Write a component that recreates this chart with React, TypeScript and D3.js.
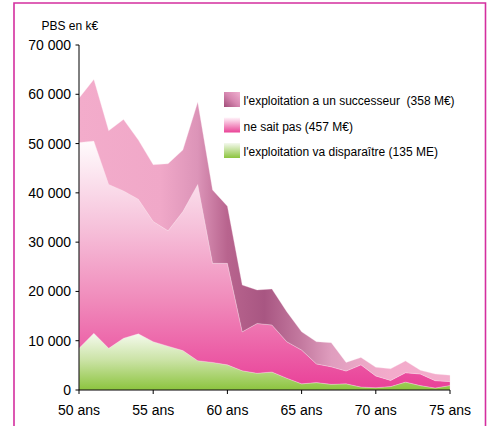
import React from "react";
import * as d3 from "d3";

const ages = [50,51,52,53,54,55,56,57,58,59,60,61,62,63,64,65,66,67,68,69,70,71,72,73,74,75];
// stacked boundaries (k€)
const totalTop = [59200,63000,52600,54900,50700,45700,45900,48700,58400,40600,37300,21300,20300,20500,15900,11800,9800,9600,5600,6600,4600,4300,5900,4000,3250,3000];
const midTop = [50200,50500,41700,40400,38700,34200,32300,36200,41700,25700,25700,11800,13500,13200,9800,8100,5300,4700,3850,5100,2850,1950,3500,3250,1900,1700];
const disparaitre = [8450,11500,8450,10500,11400,9800,8900,8000,5950,5600,5100,3900,3400,3650,2400,1250,1500,1150,1250,600,470,700,1600,900,400,900];
const neSaitPas = midTop.map((v, i) => v - disparaitre[i]);
const successeur = totalTop.map((v, i) => v - midTop[i]);

const seriesKeys = ["disparaitre", "neSaitPas", "successeur"];
const legendLabels = [
  "l'exploitation a un successeur  (358 M€)",
  "ne sait pas (457 M€)",
  "l'exploitation va disparaître (135 ME)",
];
const yTicks = [0, 10000, 20000, 30000, 40000, 50000, 60000, 70000];
const xTicks = [50, 55, 60, 65, 70, 75];

export default function App() {
  const W = 491, H = 426;
  const x = d3.scaleLinear().domain([50, 75]).range([79, 450]);
  const y = d3.scaleLinear().domain([0, 70000]).range([390, 45]);
  const rows = ages.map((a, i) => ({ age: a, disparaitre: disparaitre[i], neSaitPas: neSaitPas[i], successeur: successeur[i] }));
  const stacked = d3.stack<any>().keys(seriesKeys)(rows);
  const area = d3.area<any>().x((d) => x(d.data.age)).y0((d) => y(d[0])).y1((d) => y(d[1]));
  const fills = ["url(#gGreen)", "url(#gPink)", "url(#gMauve)"];
  const fmt = (v: number) => d3.format(",")(v).replace(/,/g, " ");
  const font = "Liberation Sans, Arial, sans-serif";

  return (
    <svg width={W} height={H} style={{ position: "absolute", left: 0, top: 0 }} fontFamily={font}>
      <defs>
        <linearGradient id="gMauve" gradientUnits="userSpaceOnUse" x1="79" y1="0" x2="450" y2="0">
          <stop offset="0" stopColor="#f3accb" />
          <stop offset="0.22" stopColor="#f0a8c8" />
          <stop offset="0.32" stopColor="#dc94b8" />
          <stop offset="0.40" stopColor="#b8648e" />
          <stop offset="0.50" stopColor="#a85682" />
          <stop offset="0.60" stopColor="#c47aa0" />
          <stop offset="0.68" stopColor="#df9dbe" />
          <stop offset="0.76" stopColor="#eba7c6" />
          <stop offset="0.84" stopColor="#f3abcb" />
          <stop offset="1" stopColor="#f3adcc" />
        </linearGradient>
        <linearGradient id="gPink" gradientUnits="userSpaceOnUse" x1="0" y1="140" x2="0" y2="390">
          <stop offset="0" stopColor="#fffcfd" />
          <stop offset="0.35" stopColor="#f6c1da" />
          <stop offset="0.65" stopColor="#f089ba" />
          <stop offset="1" stopColor="#e93f98" />
        </linearGradient>
        <linearGradient id="gGreen" gradientUnits="userSpaceOnUse" x1="0" y1="330" x2="0" y2="390">
          <stop offset="0" stopColor="#fafdf7" />
          <stop offset="0.5" stopColor="#cbe3a6" />
          <stop offset="1" stopColor="#8cc43e" />
        </linearGradient>
        <linearGradient id="lgMauve" x1="1" y1="0" x2="0" y2="1">
          <stop offset="0" stopColor="#f0b0d0" />
          <stop offset="0.5" stopColor="#d687b0" />
          <stop offset="1" stopColor="#a04c78" />
        </linearGradient>
        <linearGradient id="lgPink" x1="0" y1="0" x2="0" y2="1">
          <stop offset="0" stopColor="#fff5fa" />
          <stop offset="1" stopColor="#e94396" />
        </linearGradient>
        <linearGradient id="lgGreen" x1="0" y1="0" x2="0" y2="1">
          <stop offset="0" stopColor="#f4f9ee" />
          <stop offset="1" stopColor="#8cc43e" />
        </linearGradient>
      </defs>
      <rect x={0} y={0} width={W} height={H} fill="#fff" />
      <path d={`M14,${H + 5}V3H485.5V${H + 5}`} fill="none" stroke="#d42f9f" strokeWidth={1.6} />

      {stacked.map((s, i) => (
        <path key={s.key} d={area(s) || ""} fill={fills[i]} stroke="#fbe3ef" strokeWidth={0.5} strokeOpacity={0.6} />
      ))}

      {/* y axis */}
      <line x1={79} x2={79} y1={y(70000)} y2={y(0)} stroke="#000" strokeWidth={1} />
      {yTicks.map((t) => (
        <g key={t}>
          <line x1={75.5} x2={79} y1={y(t)} y2={y(t)} stroke="#000" />
          <text x={71} y={y(t)} dy="0.36em" textAnchor="end" fontSize={14} fill="#000">{fmt(t)}</text>
        </g>
      ))}
      {/* x axis */}
      <line x1={79} x2={450} y1={390} y2={390} stroke="#000" strokeWidth={1} />
      {xTicks.map((t) => (
        <g key={t}>
          <line x1={x(t)} x2={x(t)} y1={390} y2={394} stroke="#000" />
          <text x={x(t)} y={415} textAnchor="middle" fontSize={14} fill="#000">{`${t} ans`}</text>
        </g>
      ))}
      <text x={41.5} y={30} fontSize={12} fill="#000">PBS en k€</text>

      {/* legend */}
      {["url(#lgMauve)", "url(#lgPink)", "url(#lgGreen)"].map((f, i) => (
        <g key={i} transform={`translate(224,${92 + i * 25.5})`}>
          <rect x={0} y={0} width={16} height={15} fill={f} />
          <text x={19.5} y={13} fontSize={12} fill="#000" style={{ whiteSpace: "pre" }}>{legendLabels[i]}</text>
        </g>
      ))}
    </svg>
  );
}
